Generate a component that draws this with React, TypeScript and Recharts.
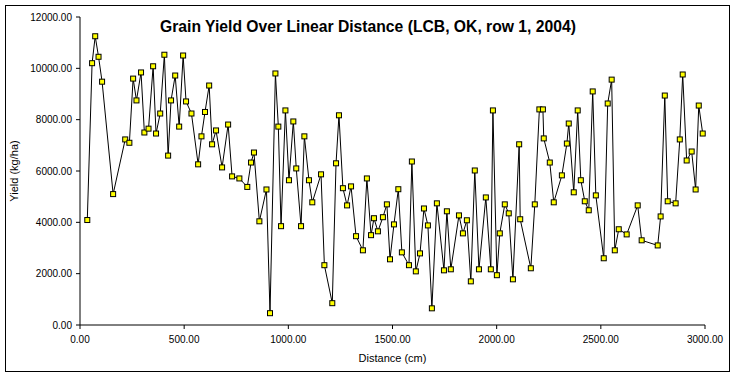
import React from 'react';
import { LineChart, Line, XAxis, YAxis } from 'recharts';

const distances = [
  35, 58, 73, 89, 106, 159, 217, 237, 255, 271, 293, 309, 329, 351, 365, 385, 405, 423, 437, 457,
  476, 495, 509, 535, 567, 583, 600, 620, 634, 653, 682, 711, 730, 765, 803, 821, 835, 861, 895, 912,
  938, 952, 965, 986, 1003, 1024, 1038, 1061, 1077, 1099, 1115, 1157, 1173, 1211, 1229, 1243, 1262, 1282, 1301, 1325,
  1358, 1377, 1397, 1411, 1430, 1454, 1473, 1488, 1507, 1528, 1545, 1579, 1593, 1612, 1632, 1651, 1670, 1689, 1713, 1747,
  1761, 1780, 1819, 1838, 1857, 1876, 1895, 1915, 1948, 1972, 1982, 2001, 2015, 2039, 2058, 2078, 2108, 2113, 2164, 2183,
  2205, 2222, 2226, 2255, 2274, 2313, 2337, 2346, 2370, 2389, 2404, 2423, 2442, 2461, 2476, 2514, 2533, 2552, 2567, 2586,
  2624, 2677, 2696, 2773, 2787, 2807, 2821, 2859, 2879, 2893, 2912, 2936, 2955, 2970, 2989,
];

const yields = [
  4090, 10200, 11250, 10450, 9480, 5100, 7230, 7100, 9600, 8750, 9840, 7500, 7650, 10080, 7460, 8240, 10530, 6600, 8750, 9720,
  7730, 10500, 8710, 8240, 6260, 7350, 8300, 9330, 7040, 7580, 6140, 7810, 5790, 5710, 5380, 6330, 6720, 4040, 5280, 460,
  9800, 7730, 3850, 8360, 5640, 7930, 6100, 3850, 7350, 5640, 4780, 5870, 2330, 850, 6300, 8170, 5330, 4660, 5400, 3460,
  2910, 5710, 3500, 4160, 3650, 4200, 4700, 2560, 3920, 5290, 2830, 2330, 6370, 2090, 2790, 4540, 3880, 650, 4740, 2130,
  4430, 2170, 4270, 3570, 4080, 1700, 6020, 2170, 4970, 2170, 8360, 1940, 3570, 4700, 4350, 1780, 7040, 4120, 2210, 4700,
  8400, 8400, 7270, 6330, 4780, 5830, 7070, 7850, 5170, 8360, 5640, 4820, 4470, 9100, 5050, 2600, 8630, 9560, 2910, 3730,
  3530, 4660, 3300, 3100, 4230, 8940, 4820, 4740, 7230, 9760, 6410, 6760, 5280, 8550, 7460,
];

const xTicks = [0, 500, 1000, 1500, 2000, 2500, 3000];
const yTicks = [0, 2000, 4000, 6000, 8000, 10000, 12000];

const title = 'Grain Yield Over Linear Distance (LCB, OK, row 1, 2004)';
const xLabel = 'Distance (cm)';
const yLabel = 'Yield (kg/ha)';

const data = distances.map((d, i) => ({ x: d, y: yields[i] }));

const FONT = '"Liberation Sans", Arial, sans-serif';

const SquareDot = (props: any) => {
  const { cx, cy, index } = props;
  if (cx == null || cy == null) return null;
  return (
    <rect
      key={`dot-${index}`}
      x={cx - 2.5}
      y={cy - 2.5}
      width={5}
      height={5}
      fill="#FFFF00"
      stroke="#000000"
      strokeWidth={1}
    />
  );
};

export default function App() {
  return (
    <div style={{ position: 'absolute', left: 0, top: 0, width: 734, height: 377, background: '#fff' }}>
      <LineChart
        width={734}
        height={377}
        data={data}
        margin={{ top: 17, right: 29, bottom: 12, left: 0 }}
      >
        <XAxis
          type="number"
          dataKey="x"
          domain={[0, 3000]}
          ticks={xTicks}
          tickFormatter={(v: number) => v.toFixed(2)}
          tick={{ fill: '#000', fontSize: 10, fontFamily: FONT }}
          tickSize={4}
          tickMargin={7}
          axisLine={{ stroke: '#000' }}
          tickLine={{ stroke: '#000' }}
          height={40}
          interval={0}
          label={{ value: xLabel, position: 'insideBottom', offset: 3, fill: '#000', fontSize: 11, fontFamily: FONT }}
        />
        <YAxis
          type="number"
          dataKey="y"
          domain={[0, 12000]}
          ticks={yTicks}
          tickFormatter={(v: number) => v.toFixed(2)}
          tick={{ fill: '#000', fontSize: 10, fontFamily: FONT }}
          tickSize={4}
          tickMargin={4}
          axisLine={{ stroke: '#000' }}
          tickLine={{ stroke: '#000' }}
          width={80}
          interval={0}
          label={{
            value: yLabel,
            angle: -90,
            position: 'insideLeft',
            offset: 14,
            fill: '#000',
            fontSize: 11,
            fontFamily: FONT,
            style: { textAnchor: 'middle' },
          }}
        />
        <Line
          type="linear"
          dataKey="y"
          stroke="#000"
          strokeWidth={1}
          dot={SquareDot}
          activeDot={false}
          isAnimationActive={false}
        />
      </LineChart>
      <div
        style={{
          position: 'absolute',
          left: 5,
          top: 5,
          width: 723,
          height: 365,
          border: '1px solid #000',
          pointerEvents: 'none',
        }}
      />
      <div
        style={{
          position: 'absolute',
          left: 0,
          top: 18,
          width: 736,
          textAlign: 'center',
          fontFamily: FONT,
          fontWeight: 'bold',
          fontSize: 15.7,
          lineHeight: '18px',
          color: '#000',
        }}
      >
        {title}
      </div>
    </div>
  );
}
